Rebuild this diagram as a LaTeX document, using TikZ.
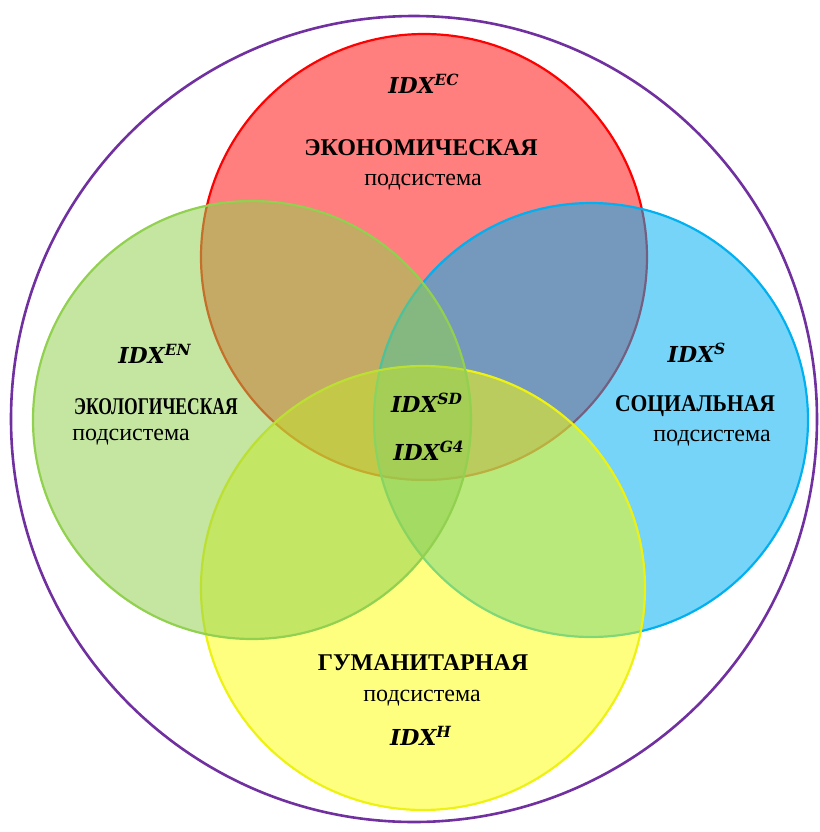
\documentclass[tikz,border=0pt]{standalone}
\usepackage{fontspec}
\setmainfont{Liberation Serif}
\newfontfamily\idxfont{DejaVu Serif}
\usetikzlibrary{positioning}
\definecolor{red500}   {HTML}{FF0000}
\definecolor{green500} {HTML}{92D050}
\definecolor{blue500}  {HTML}{00B0F0}
\definecolor{yellow500}{HTML}{FFFF00}
\definecolor{yellow600}{HTML}{EEF212}
\definecolor{purple700}{HTML}{7030A0}
\newcommand{\idx}[1]{{\idxfont\bfseries\itshape IDX\textsuperscript{#1}}}
\tikzset{
  sub/.style    ={line width=1.1pt, fill opacity=0.54},
  idxlab/.style ={font=\fontsize{11}{13}\selectfont, inner sep=1pt},
  head/.style   ={font=\bfseries\fontsize{12}{14}\selectfont, inner sep=1pt},
  sublab/.style ={font=\fontsize{12}{14}\selectfont, inner sep=1pt}
}
\begin{document}
\begin{tikzpicture}[x=0.5pt, y=-0.5pt]
\useasboundingbox (0,0) rectangle (820,832);
% the four subsystems, drawn in this order so the overlaps mix as in the figure
\draw[sub, draw=red500, fill=red500, fill opacity=0.5] (424,257) circle[radius=223];
\draw[sub, draw=blue500, fill=blue500] (591,420) circle[radius=217];
\draw[sub, draw=yellow600, fill=yellow500, fill opacity=0.5] (423,588) circle[radius=222];
\draw[sub, draw=green500, fill=green500] (252,420) circle[radius=219];
\draw[line width=1.3pt, draw=purple700] (414,419) circle[radius=403];

\node[idxlab] (ecIdx)  at (424,84)  {\idx{EC}};
\node[head]   (ecHead) at (421,148) {ЭКОНОМИЧЕСКАЯ};
\node[sublab] (ecSub)  at (423,182) {подсистема};

\node[idxlab] (enIdx)  at (155,354) {\idx{EN}};
\node[head]   (enHead) at (156,407) {\scalebox{0.73}[1]{ЭКОЛОГИЧЕСКАЯ}};
\node[sublab] (enSub)  at (131,437) {подсистема};

\node[idxlab] (sIdx)   at (697,353) {\idx{S}};
\node[head]   (sHead)  at (695,406) {\scalebox{0.9}[1]{СОЦИАЛЬНАЯ}};
\node[sublab] (sSub)   at (712,438) {подсистема};

\node[idxlab] (sdIdx)  at (427,403) {\idx{SD}};
\node[idxlab] (gIdx)   at (429,451) {\idx{G4}};

\node[head]   (hHead)  at (423,663) {ГУМАНИТАРНАЯ};
\node[sublab] (hSub)   at (422,698) {подсистема};
\node[idxlab] (hIdx)   at (421,736) {\idx{H}};
\end{tikzpicture}
\end{document}
